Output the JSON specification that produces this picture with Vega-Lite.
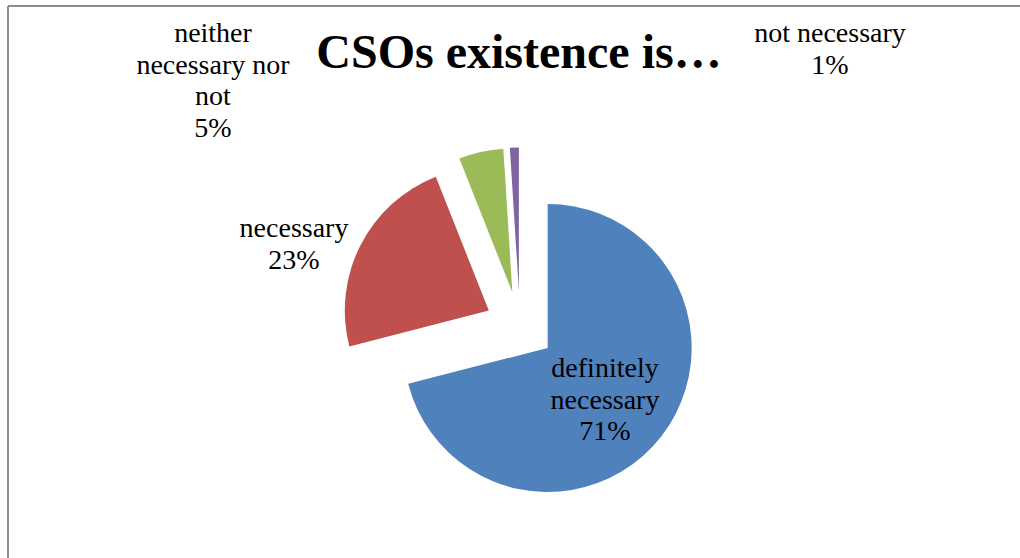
{
  "$schema": "https://vega.github.io/schema/vega-lite/v6.json",
  "width": 1012,
  "height": 552,
  "autosize": {"type": "none"},
  "padding": {"left": 8, "top": 6, "right": 0, "bottom": 0},
  "background": "white",
  "config": {
    "view": {"stroke": null},
    "text": {"font": "Liberation Serif", "fontSize": 28, "lineHeight": 31.5, "color": "black", "align": "center", "baseline": "alphabetic"}
  },
  "title": {
    "text": "CSOs existence is…",
    "font": "Liberation Serif",
    "fontSize": 48,
    "fontWeight": "bold",
    "color": "black",
    "anchor": "middle",
    "frame": "group",
    "baseline": "alphabetic",
    "offset": 0,
    "dy": 111,
    "dx": 5
  },
  "data": {
    "values": [
      {"category": "definitely necessary", "value": 71, "label": ["definitely", "necessary", "71%"]},
      {"category": "necessary", "value": 23, "label": ["necessary", "23%"]},
      {"category": "neither necessary nor not", "value": 5, "label": ["neither", "necessary nor", "not", "5%"]},
      {"category": "not necessary", "value": 1, "label": ["not necessary", "1%"]}
    ]
  },
  "layer": [
    {
      "data": {"values": [{"frame": "left edge"}]},
      "mark": {"type": "rect", "x": 0, "y": {"expr": "height/2"}, "width": 2, "height": {"expr": "height"}, "fill": "#8c8c8c"},
      "encoding": {}
    },
    {
      "data": {"values": [{"frame": "top edge"}]},
      "mark": {"type": "rect", "x": {"expr": "width/2"}, "y": 0, "width": {"expr": "width"}, "height": 2, "fill": "#8c8c8c"},
      "encoding": {}
    },
    {
      "transform": [
        {"stack": "value", "groupby": [], "sort": [{"field": "value", "order": "descending"}], "as": ["v0", "v1"]}
      ],
      "mark": {
        "type": "arc",
        "outerRadius": 144,
        "x": {"expr": "width/2 + 6 + 35*sin(PI*(datum.v0+datum.v1)/100)"},
        "y": {"expr": "height/2 + 44.5 - 35*cos(PI*(datum.v0+datum.v1)/100)"}
      },
      "encoding": {
        "theta": {"field": "v0", "type": "quantitative", "scale": {"domain": [0, 100]}},
        "theta2": {"field": "v1"},
        "color": {
          "field": "category",
          "type": "nominal",
          "scale": {
            "domain": ["definitely necessary", "necessary", "neither necessary nor not", "not necessary"],
            "range": ["#4F81BD", "#C0504D", "#9BBB59", "#8064A2"]
          },
          "legend": null
        }
      }
    },
    {
      "transform": [{"filter": "datum.category == 'definitely necessary'"}],
      "mark": {"type": "text", "x": {"expr": "width/2 + 6"}, "y": {"expr": "height/2 + 44.5"}, "dx": 85, "dy": 50.5},
      "encoding": {"text": {"field": "label"}}
    },
    {
      "transform": [{"filter": "datum.category == 'necessary'"}],
      "mark": {"type": "text", "x": {"expr": "width/2 + 6"}, "y": {"expr": "height/2 + 44.5"}, "dx": -226, "dy": -89.5},
      "encoding": {"text": {"field": "label"}}
    },
    {
      "transform": [{"filter": "datum.category == 'neither necessary nor not'"}],
      "mark": {"type": "text", "x": {"expr": "width/2 + 6"}, "y": {"expr": "height/2 + 44.5"}, "dx": -307, "dy": -284.5},
      "encoding": {"text": {"field": "label"}}
    },
    {
      "transform": [{"filter": "datum.category == 'not necessary'"}],
      "mark": {"type": "text", "x": {"expr": "width/2 + 6"}, "y": {"expr": "height/2 + 44.5"}, "dx": 310, "dy": -284.5},
      "encoding": {"text": {"field": "label"}}
    }
  ]
}
